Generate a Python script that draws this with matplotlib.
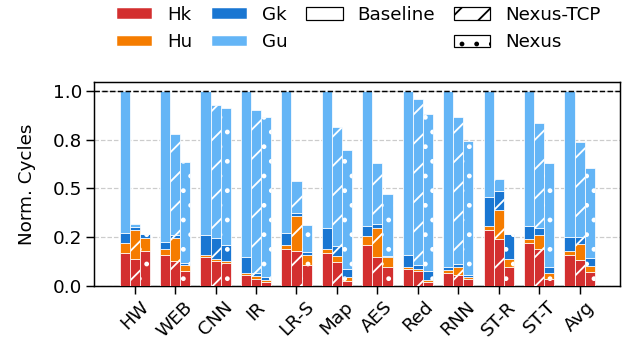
import matplotlib
matplotlib.use('Agg')
import matplotlib.pyplot as plt
from matplotlib.patches import Patch
import numpy as np

plt.rcParams['hatch.linewidth'] = 1.5
plt.rcParams['font.size'] = 15

benchmarks = ['HW', 'WEB', 'CNN', 'IR', 'LR-S', 'Map', 'AES', 'Red', 'RNN', 'ST-R', 'ST-T', 'Avg']
parts = ['Hk', 'Hu', 'Gk', 'Gu']
colors = ['#d32f2f', '#f57c00', '#1976d2', '#64b5f6']

# segment heights per config: Hk, Hu, Gk, Gu
baseline = {
    'Hk': [0.166, 0.157, 0.148, 0.054, 0.186, 0.167, 0.207, 0.083, 0.066, 0.285, 0.217, 0.157],
    'Hu': [0.051, 0.031, 0.010, 0.012, 0.021, 0.019, 0.049, 0.014, 0.014, 0.021, 0.020, 0.022],
    'Gk': [0.051, 0.037, 0.100, 0.081, 0.061, 0.108, 0.051, 0.060, 0.014, 0.151, 0.070, 0.072],
    'Gu': [0.732, 0.775, 0.742, 0.853, 0.732, 0.706, 0.693, 0.843, 0.906, 0.543, 0.693, 0.749],
}
nexus_tcp = {
    'Hk': [0.135, 0.126, 0.126, 0.033, 0.176, 0.122, 0.145, 0.073, 0.054, 0.237, 0.186, 0.131],
    'Hu': [0.150, 0.120, 0.009, 0.017, 0.181, 0.031, 0.149, 0.015, 0.040, 0.151, 0.072, 0.082],
    'Gk': [0.017, 0.014, 0.108, 0.016, 0.017, 0.052, 0.021, 0.017, 0.017, 0.098, 0.036, 0.035],
    'Gu': [0.014, 0.517, 0.685, 0.836, 0.163, 0.610, 0.313, 0.852, 0.757, 0.060, 0.543, 0.490],
}
nexus = {
    'Hk': [0.177, 0.076, 0.117, 0.020, 0.105, 0.025, 0.094, 0.020, 0.033, 0.094, 0.033, 0.071],
    'Hu': [0.069, 0.028, 0.009, 0.008, 0.052, 0.020, 0.051, 0.008, 0.012, 0.041, 0.033, 0.031],
    'Gk': [0.017, 0.012, 0.082, 0.019, 0.017, 0.040, 0.008, 0.047, 0.012, 0.128, 0.028, 0.038],
    'Gu': [0.003, 0.521, 0.703, 0.821, 0.135, 0.612, 0.316, 0.805, 0.688, 0.004, 0.534, 0.464],
}

configs = [('Baseline', baseline, ''), ('Nexus-TCP', nexus_tcp, '/'), ('Nexus', nexus, '.')]

DPI = 88
fig = plt.figure(figsize=(622 / DPI, 345 / DPI), dpi=DPI)
ax = fig.add_axes([0.1516, 0.172, 0.8452, 0.590])

x = np.arange(len(benchmarks))
width = 0.25
for i, (name, data, hatch) in enumerate(configs):
    bottom = np.zeros(len(benchmarks))
    for p, c in zip(parts, colors):
        vals = np.array(data[p])
        ax.bar(x + (i - 1) * width, vals, width, bottom=bottom, color=c,
               edgecolor='white', linewidth=0.6, hatch=hatch, zorder=3)
        bottom += vals

ax.axhline(1.0, color='black', linestyle='--', linewidth=1.2, zorder=4)
ax.set_xlim(-1, 12)
ax.set_ylim(0, 1.045)
ax.set_yticks([0, 0.25, 0.5, 0.75, 1.0])
ax.set_yticklabels(['0.0', '0.2', '0.5', '0.8', '1.0'])
ax.yaxis.grid(True, linestyle='--', color='#cccccc', linewidth=1, zorder=0)
ax.set_xticks(x)
ax.set_xticklabels(benchmarks, rotation=45)
ax.set_ylabel('Norm. Cycles', labelpad=14)
ax.tick_params(length=6.5, width=1.2)
for s in ax.spines.values():
    s.set_linewidth(1.2)

handles = [
    Patch(facecolor=colors[0], edgecolor='white', linewidth=2, label='Hk'),
    Patch(facecolor=colors[1], edgecolor='white', linewidth=2, label='Hu'),
    Patch(facecolor=colors[2], edgecolor='white', linewidth=2, label='Gk'),
    Patch(facecolor=colors[3], edgecolor='white', linewidth=2, label='Gu'),
    Patch(facecolor='white', edgecolor='black', label='Baseline'),
    Patch(facecolor='none', edgecolor='none', label=''),
    Patch(facecolor='white', edgecolor='black', hatch='/', label='Nexus-TCP'),
    Patch(facecolor='white', edgecolor='black', hatch='.', label='Nexus'),
]
ax.legend(handles=handles, ncol=4, loc='lower center', bbox_to_anchor=(0.502, 1.07),
          frameon=False, columnspacing=1.0, handletextpad=0.8, fontsize=15)

fig.savefig('out.png', dpi=DPI)
